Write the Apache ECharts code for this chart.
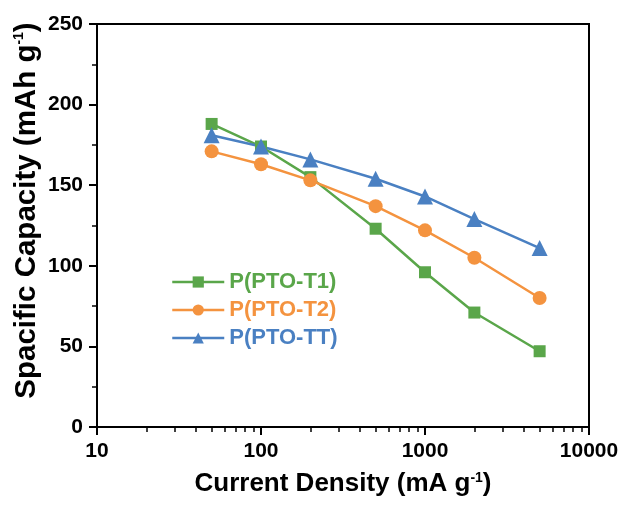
<!DOCTYPE html>
<html>
<head>
<meta charset="utf-8">
<script src="https://cdn.jsdelivr.net/npm/echarts@6/dist/echarts.min.js"></script>
<style>
  html, body { margin: 0; padding: 0; background: #fff; }
  #chart { width: 633px; height: 510px; }
</style>
</head>
<body>
<div id="chart"></div>
<script>
// current density (mA g-1)
const currents = [50, 100, 200, 500, 1000, 2000, 5000]
const t1 = [188, 174, 155, 123, 96, 71, 47]
const t2 = [171, 163, 153, 137, 122, 105, 80]
const tt = [181, 174, 166, 154, 143, 129, 111]
const seriesNames = ['P(PTO-T1)', 'P(PTO-T2)', 'P(PTO-TT)']
// minor ticks on the log axis
const xMinorTicks = [20, 30, 40, 50, 60, 70, 80, 90, 200, 300, 400, 500, 600, 700, 800, 900,
  2000, 3000, 4000, 5000, 6000, 7000, 8000, 9000]

const colors = ['#5aa64a', '#f4933f', '#4a80c2']
const font = '"Liberation Sans", Arial, sans-serif'

const chart = echarts.init(document.getElementById('chart'))

const pairs = arr => currents.map((c, i) => [c, arr[i]])

const mkSeries = (name, data, symbol, color, size) => ({
  name,
  type: 'line',
  data: pairs(data),
  symbol,
  symbolSize: size,
  lineStyle: { color, width: 2.5 },
  itemStyle: { color },
  z: 3,
})

const supStyle = { fontFamily: font, fontWeight: 'bold', fontSize: 14, color: '#000', verticalAlign: 'top', padding: [0, 0, 10, 0] }

chart.setOption({
  animation: false,
  grid: {
    left: 97, right: 44, top: 24, bottom: 83,
    show: true, borderColor: '#000', borderWidth: 2, backgroundColor: 'transparent',
  },
  legend: {
    orient: 'vertical',
    left: 166, top: 266,
    itemWidth: 52, itemHeight: 14,
    itemGap: 6,
    lineStyle: { width: 2.5 },
    textStyle: { fontFamily: font, fontWeight: 'bold', fontSize: 22 },
    data: seriesNames.map((n, i) => ({ name: n, textStyle: { color: colors[i] } })),
  },
  xAxis: [
    {
      type: 'log',
      logBase: 10,
      min: 10,
      max: 10000,
      name: 'Current Density (mA g{sup|-1})',
      nameLocation: 'middle',
      nameGap: 44,
      nameMoveOverlap: false,
      nameTextStyle: {
        fontFamily: font, fontWeight: 'bold', fontSize: 26, color: '#000',
        rich: { sup: supStyle },
      },
      axisLine: { lineStyle: { color: '#000', width: 2 } },
      axisTick: { length: 8, lineStyle: { color: '#000', width: 2 } },
      axisLabel: {
        fontFamily: font, fontWeight: 'bold', fontSize: 21, color: '#000', margin: 14,
        formatter: v => String(Math.round(v)),
      },
      splitLine: { show: false },
    },
    {
      // helper axis, only draws the minor ticks
      type: 'log',
      logBase: 10,
      min: 10,
      max: 10000,
      position: 'bottom',
      axisLine: { show: false },
      axisTick: { show: true, length: 5, customValues: xMinorTicks, lineStyle: { color: '#000', width: 1.5 } },
      axisLabel: { show: false },
      splitLine: { show: false },
    },
  ],
  yAxis: {
    type: 'value',
    min: 0,
    max: 250,
    interval: 50,
    name: 'Spacific Capacity (mAh g{sup|-1})',
    nameLocation: 'middle',
    nameRotate: 90,
    nameGap: 55,
    nameMoveOverlap: false,
    nameTextStyle: {
      fontFamily: font, fontWeight: 'bold', fontSize: 29.5, color: '#000',
      padding: [0, 0, 0, 30],
      rich: { sup: supStyle },
    },
    axisLine: { show: true, lineStyle: { color: '#000', width: 2 } },
    axisTick: { show: true, length: 8, lineStyle: { color: '#000', width: 2 } },
    minorTick: { show: true, splitNumber: 2, length: 5, lineStyle: { color: '#000', width: 1.5 } },
    axisLabel: { fontFamily: font, fontWeight: 'bold', fontSize: 21, color: '#000', margin: 14 },
    splitLine: { show: false },
  },
  series: [
    mkSeries(seriesNames[0], t1, 'rect', colors[0], 12),
    mkSeries(seriesNames[1], t2, 'circle', colors[1], 14),
    mkSeries(seriesNames[2], tt, 'triangle', colors[2], 16),
  ],
})
</script>
</body>
</html>
